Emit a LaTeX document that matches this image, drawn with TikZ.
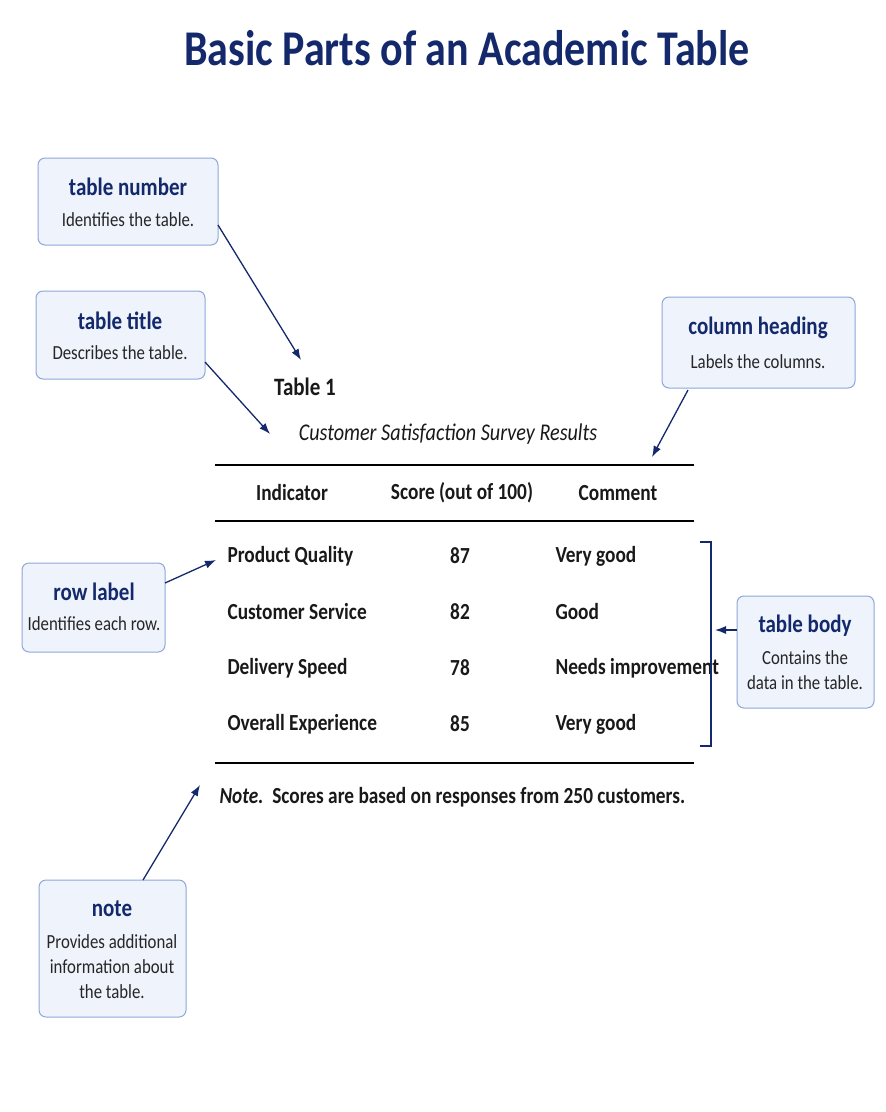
\documentclass[tikz,border=0pt]{standalone}
\usepackage{fontspec}
\setmainfont{Carlito}[FakeStretch=0.84]
\usetikzlibrary{arrows.meta}
\definecolor{navy}{HTML}{14296B}
\definecolor{boxfill}{HTML}{EEF3FC}
\definecolor{boxdraw}{HTML}{8FA8D8}
\begin{document}
\begin{tikzpicture}[x=1pt,y=-1pt,
  callout/.style={draw=boxdraw,fill=boxfill,rounded corners=7pt,line width=1pt},
  ht/.style={font=\fontsize{25}{27}\selectfont\bfseries,text=navy},
  dt/.style={font=\fontsize{20}{25}\selectfont,text=black!85,align=center},
  tt/.style={text=black!90},
  tb/.style={tt,font=\fontsize{23}{25}\selectfont\bfseries},
  arr/.style={-{Latex[length=11pt,width=8pt]},draw=navy,line width=1.3pt},
  rule/.style={line width=1.5pt}]
\useasboundingbox (0,0) rectangle (886,1112);
\fill[white] (0,0) rectangle (886,1112);
\node[font=\fontsize{50}{54}\selectfont\bfseries,text=navy] (title) at (467,48) {Basic Parts of an Academic Table};
% callouts
\draw[callout] (38,158) rectangle (218,245);
\node[ht] at (128,187) {table number}; \node[dt] at (128,220) {Identifies the table.};
\draw[callout] (36,291) rectangle (205,379);
\node[ht] at (120,321) {table title}; \node[dt] at (120,353) {Describes the table.};
\draw[callout] (662,297) rectangle (855,388);
\node[ht] at (758,328) {column heading}; \node[dt] at (758,362) {Labels the columns.};
\draw[callout] (22,563) rectangle (165,652);
\node[ht] at (94,592) {row label}; \node[dt] at (94,624) {Identifies each row.};
\draw[callout] (737,596) rectangle (874,708);
\node[ht] at (805,626) {table body}; \node[dt] at (805,670) {Contains the\\data in the table.};
\draw[callout] (39,880) rectangle (186,1017);
\node[ht] at (112,909) {note}; \node[dt] at (112,967) {Provides additional\\information about\\the table.};
% table
\node[tt,font=\fontsize{25}{27}\selectfont\bfseries] (tnum) at (305,387) {Table 1};
\node[tt,font=\fontsize{24}{27}\selectfont\itshape] (ttitle) at (448,434) {Customer Satisfaction Survey Results};
\draw[rule] (215,465) -- (694,465);
\draw[rule] (215,521) -- (694,521);
\draw[rule] (215,763) -- (694,763);
\node[tb] at (292,493) {Indicator};
\node[tb] at (462,493) {Score (out of 100)};
\node[tb] at (618,493) {Comment};
\foreach \y/\a/\b/\c in {556/Product Quality/87/Very good,612/Customer Service/82/Good,668/Delivery Speed/78/Needs improvement,724/Overall Experience/85/Very good}{
  \node[tb,anchor=west] at (224,\y) {\a};
  \node[tb] at (460,\y) {\b};
  \node[tb,anchor=west] at (552,\y) {\c};
}
\draw[navy,line width=1.2pt] (700,542) -- (711,542) -- (711,746) -- (700,746);
\node[tb,anchor=west] (note) at (216,797) {\textit{Note.}\ \ Scores are based on responses from 250 customers.};
% arrows
\coordinate (a1s) at (218,225); \coordinate (a1e) at (301,360);
\coordinate (a2s) at (205,362); \coordinate (a2e) at (270,434);
\coordinate (a3s) at (688,390); \coordinate (a3e) at (652,457);
\coordinate (a4s) at (165,583); \coordinate (a4e) at (216,560);
\coordinate (a5s) at (737,630); \coordinate (a5e) at (715,630);
\coordinate (a6s) at (143,880); \coordinate (a6e) at (200,785);
\foreach \i in {1,...,6} \draw[arr] (a\i s) -- (a\i e);
\end{tikzpicture}
\end{document}
